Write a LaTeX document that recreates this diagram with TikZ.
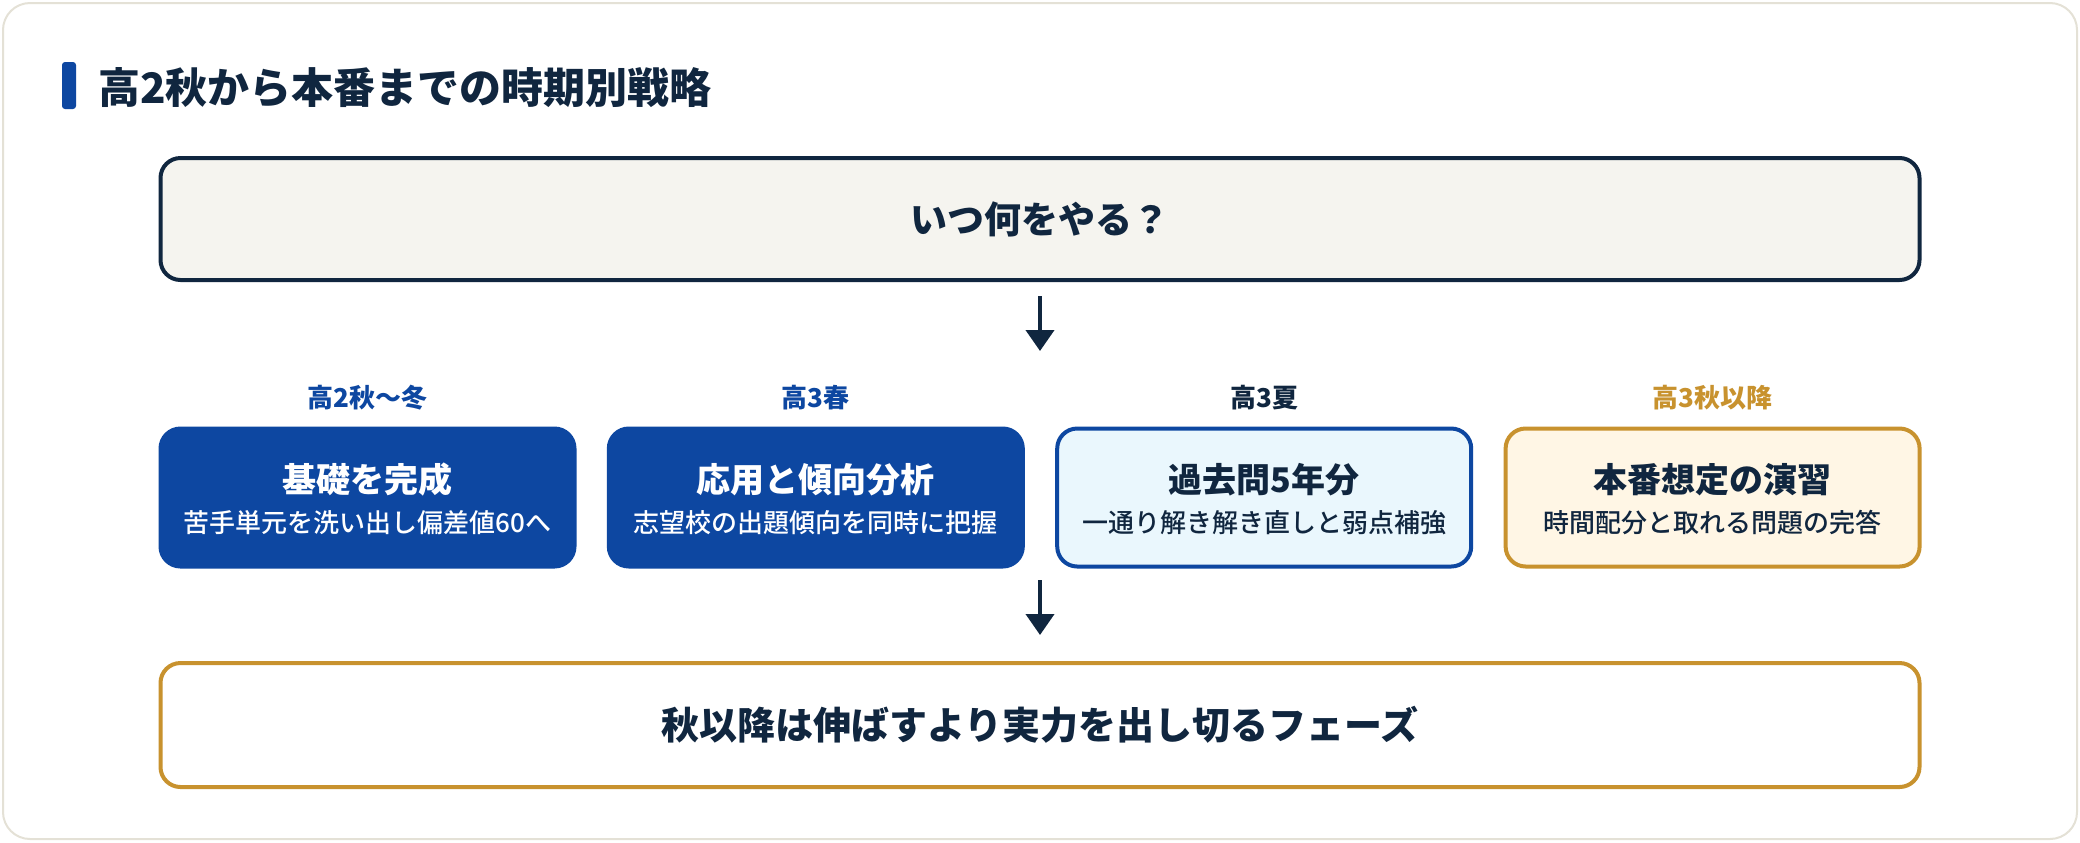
\documentclass[tikz,border=0pt]{standalone}
\usepackage{fontspec}
\setmainfont{Noto Sans CJK JP}
\newfontfamily\midfont{Noto Sans CJK JP Medium}
\usetikzlibrary{arrows.meta}

\definecolor{ink}{HTML}{10263F}
\definecolor{deepblue}{HTML}{0D47A1}
\definecolor{gold}{HTML}{C8922E}
\definecolor{skyfill}{HTML}{EAF7FD}
\definecolor{creamfill}{HTML}{FFF6E5}
\definecolor{topfill}{HTML}{F5F4EF}
\definecolor{cardedge}{HTML}{E4E1D6}

\begin{document}
\begin{tikzpicture}[x=0.5pt, y=-0.5pt,
	box/.style={draw, rounded corners=10pt, line width=2pt, inner sep=0pt},
	wide/.style={box, minimum width=879.5pt, minimum height=61pt},
	phase/.style={box, minimum width=207pt, minimum height=69pt},
	arrow/.style={draw=ink, line width=2pt, -{Triangle[width=14pt, length=10.5pt]}},
	txt/.style={inner sep=0pt, font=\bfseries\fontsize{#1}{#1}\selectfont},
	subtxt/.style={inner sep=0pt, font=\midfont\fontsize{#1}{#1}\selectfont},
]

\useasboundingbox (0, 0) rectangle (2080, 842);
\draw[cardedge, fill=white, line width=1pt, rounded corners=13.5pt] (3, 3) rectangle (2077, 839);

% title
\fill[deepblue, rounded corners=1.5pt] (62, 62) rectangle (76, 109);
\node[txt=21, text=ink, anchor=west] (title) at (98, 88) {高2秋から本番までの時期別戦略};

% question
\node[wide, draw=ink, fill=topfill] (top) at (1040, 219) {};
\node[txt=18.5, text=ink] (ask) at (top.center) {いつ何をやる？};

% phases
\foreach \x/\lab/\lcol/\fc/\dc/\tc/\ttl/\sub [count=\i] in {
	367.5/高2秋〜冬/deepblue/deepblue/deepblue/white/基礎を完成/苦手単元を洗い出し偏差値60へ,
	815.8/高3春/deepblue/deepblue/deepblue/white/応用と傾向分析/志望校の出題傾向を同時に把握,
	1264.2/高3夏/ink/skyfill/deepblue/ink/過去問5年分/一通り解き解き直しと弱点補強,
	1712.6/高3秋以降/gold/creamfill/gold/ink/本番想定の演習/時間配分と取れる問題の完答} {
	\node[txt=13, text=\lcol] (lab\i) at (\x, 398) {\lab};
	\node[phase, draw=\dc, fill=\fc] (p\i) at (\x, 497.5) {};
	\node[txt=17, text=\tc] (ttl\i) at (\x, 480) {\ttl};
	\node[subtxt=13, text=\tc] (sub\i) at (\x, 523) {\sub};
}

% summary
\node[wide, draw=gold, fill=white, minimum height=62pt] (bot) at (1040, 725) {};
\node[txt=19, text=ink] (res) at (bot.center) {秋以降は伸ばすより実力を出し切るフェーズ};

\coordinate (a1) at (1040, 351);
\coordinate (a2) at (1040, 566);
\draw[arrow, shorten <=7pt] (top.south) -- (a1);
\draw[arrow, shorten <=7pt, shorten >=13pt] (a2) -- (bot.north);

\end{tikzpicture}
\end{document}
